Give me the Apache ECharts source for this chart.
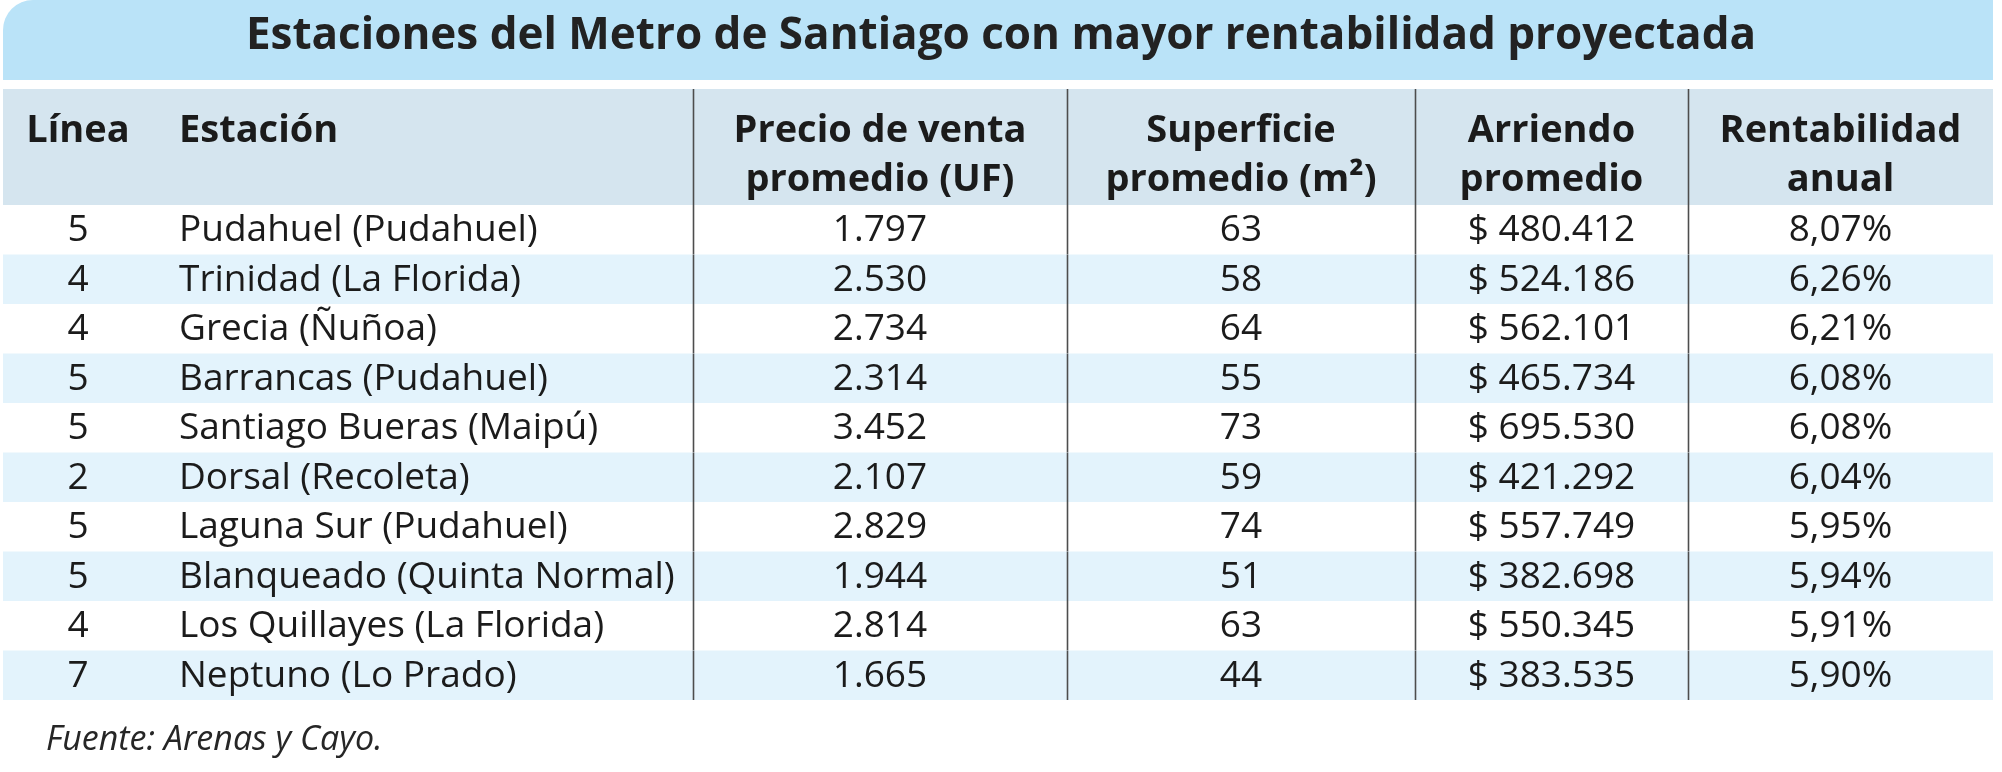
<!DOCTYPE html>
<html>
<head>
<meta charset="utf-8">
<title>Estaciones del Metro de Santiago</title>
<script src="https://cdn.jsdelivr.net/npm/echarts/dist/echarts.min.js"></script>
<style>
    html, body { margin: 0; padding: 0; background: #fff; }
    #chart { width: 2002px; height: 772px; }
</style>
</head>
<body>
<div id="chart"></div>
<script>
    // datos de la tabla
    var titulo = 'Estaciones del Metro de Santiago con mayor rentabilidad proyectada';
    var fuente = 'Fuente: Arenas y Cayo.';
    var encabezados = [
        ['Línea'],
        ['Estación'],
        ['Precio de venta', 'promedio (UF)'],
        ['Superficie', 'promedio (m²)'],
        ['Arriendo', 'promedio'],
        ['Rentabilidad', 'anual']
    ];
    var lineas = [5, 4, 4, 5, 5, 2, 5, 5, 4, 7];
    var estaciones = [
        'Pudahuel (Pudahuel)',
        'Trinidad (La Florida)',
        'Grecia (Ñuñoa)',
        'Barrancas (Pudahuel)',
        'Santiago Bueras (Maipú)',
        'Dorsal (Recoleta)',
        'Laguna Sur (Pudahuel)',
        'Blanqueado (Quinta Normal)',
        'Los Quillayes (La Florida)',
        'Neptuno (Lo Prado)'
    ];
    var precios = [1797, 2530, 2734, 2314, 3452, 2107, 2829, 1944, 2814, 1665];
    var superficies = [63, 58, 64, 55, 73, 59, 74, 51, 63, 44];
    var arriendos = [480412, 524186, 562101, 465734, 695530, 421292, 557749, 382698, 550345, 383535];
    var rentabilidad = [8.07, 6.26, 6.21, 6.08, 6.08, 6.04, 5.95, 5.94, 5.91, 5.90];

    // disposicion (unidades del eje x = px)
    var bordes = [3, 693, 1067, 1415, 1688, 1993];
    var FONT = "'Open Sans', 'Noto Sans', sans-serif";
    var COLOR_TEXTO = '#1b1b1b';
    var COLOR_RAYA = '#e3f3fc';
    var COLOR_HEADER = '#d5e5ef';
    var COLOR_LINEA = '#4d4d4d';

    function miles(n) {
        return String(n).replace(/\B(?=(\d{3})+(?!\d))/g, '.');
    }
    function pct(n) {
        return n.toFixed(2).replace('.', ',') + '%';
    }

    // posicion x y alineacion del texto por columna
    function textoX(api, col, i) {
        if (col === 0) return {x: api.coord([78, i])[0], align: 'center'};
        if (col === 1) return {x: api.coord([179, i])[0], align: 'left'};
        var m = (bordes[col - 1] + bordes[col]) / 2;
        return {x: api.coord([m, i])[0], align: 'center'};
    }

    function separadores(api, i, top, h) {
        var out = [];
        for (var k = 1; k < bordes.length - 1; k++) {
            var x = Math.round(api.coord([bordes[k], i])[0]) + 0.5;
            out.push({
                type: 'line',
                shape: {x1: x, y1: top, x2: x, y2: top + h},
                style: {stroke: COLOR_LINEA, lineWidth: 1.6}
            });
        }
        return out;
    }

    function filaCuerpo(params, api) {
        var i = api.value(1);
        var a = api.coord([bordes[0], i]);
        var b = api.coord([bordes[bordes.length - 1], i]);
        var h = api.size([0, 1])[1];
        var top = a[1] - h / 2;
        var celdas = [
            String(lineas[i]),
            estaciones[i],
            miles(precios[i]),
            String(superficies[i]),
            '$ ' + miles(arriendos[i]),
            pct(rentabilidad[i])
        ];
        var children = [{
            type: 'rect',
            shape: {x: a[0], y: top, width: b[0] - a[0], height: h},
            style: {fill: i % 2 ? COLOR_RAYA : '#ffffff'}
        }];
        celdas.forEach(function (t, col) {
            var p = textoX(api, col, i);
            children.push({
                type: 'text',
                style: {
                    text: t, x: p.x, y: a[1] + 1,
                    align: p.align, verticalAlign: 'middle',
                    fill: COLOR_TEXTO, fontSize: 37, fontFamily: FONT
                }
            });
        });
        return {type: 'group', children: children.concat(separadores(api, i, top, h))};
    }

    function filaEncabezado(params, api) {
        var a = api.coord([bordes[0], 0]);
        var b = api.coord([bordes[bordes.length - 1], 0]);
        var h = api.size([0, 1])[1];
        var top = a[1] - h / 2;
        var children = [{
            type: 'rect',
            shape: {x: a[0], y: top, width: b[0] - a[0], height: h},
            style: {fill: COLOR_HEADER}
        }];
        encabezados.forEach(function (lines, col) {
            var p = textoX(api, col, 0);
            lines.forEach(function (t, j) {
                children.push({
                    type: 'text',
                    style: {
                        text: t, x: p.x, y: top + (j === 0 ? 42 : 91),
                        align: p.align, verticalAlign: 'middle',
                        fill: COLOR_TEXTO, fontSize: 38, fontWeight: 'bold', fontFamily: FONT
                    }
                });
            });
        });
        return {type: 'group', children: children.concat(separadores(api, 0, top, h))};
    }

    var myChart = echarts.init(document.getElementById('chart'), null, {renderer: 'canvas'});
    var ejeX = {type: 'value', min: 0, max: 2002, show: false};

    var option = {
        backgroundColor: '#ffffff',
        animation: false,
        title: {
            text: titulo,
            left: 'center',
            top: 12,
            padding: 0,
            textStyle: {
                fontFamily: FONT, fontSize: 44, fontWeight: 'bold',
                color: '#222222', lineHeight: 48
            }
        },
        graphic: [
            {
                type: 'rect', z: -1,
                shape: {x: 3, y: 0, width: 1990, height: 80, r: [30, 0, 0, 0]},
                style: {fill: '#bae3f8'}
            },
            {
                type: 'text',
                style: {
                    text: fuente, x: 46, y: 740, verticalAlign: 'middle',
                    fill: '#262626', fontSize: 34, fontStyle: 'italic', fontFamily: FONT
                }
            }
        ],
        grid: [
            {left: 0, right: 0, top: 89, height: 116},
            {left: 0, right: 0, top: 205, height: 495}
        ],
        xAxis: [
            Object.assign({gridIndex: 0}, ejeX),
            Object.assign({gridIndex: 1}, ejeX)
        ],
        yAxis: [
            {gridIndex: 0, type: 'category', data: ['encabezado'], show: false},
            {gridIndex: 1, type: 'category', data: estaciones, inverse: true, show: false}
        ],
        series: [
            {
                type: 'custom',
                xAxisIndex: 0, yAxisIndex: 0,
                renderItem: filaEncabezado,
                encode: {x: 0, y: 1},
                data: [[0, 0]]
            },
            {
                type: 'custom',
                xAxisIndex: 1, yAxisIndex: 1,
                renderItem: filaCuerpo,
                encode: {x: 0, y: 1},
                data: estaciones.map(function (e, i) { return [0, i]; })
            }
        ]
    };

    myChart.setOption(option);
</script>
</body>
</html>
